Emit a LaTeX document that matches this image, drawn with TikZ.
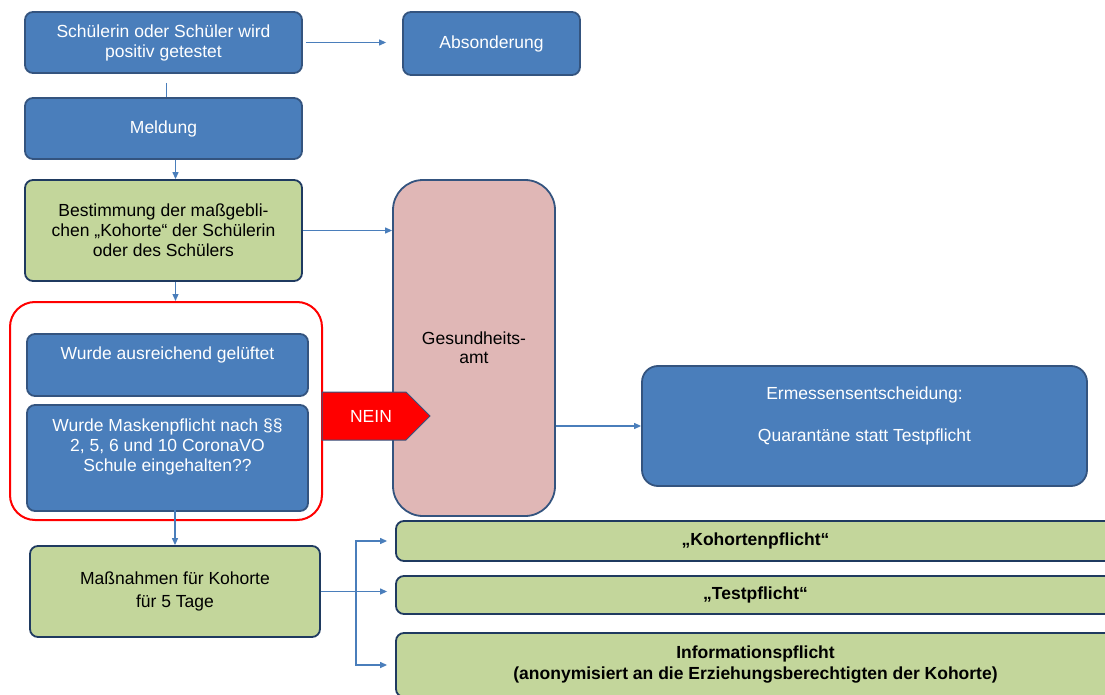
\documentclass[tikz,border=0pt]{standalone}
\usepackage{fontspec}
\setmainfont{Liberation Sans}
\usepackage{tikz}
\usetikzlibrary{arrows.meta,positioning,shapes.symbols}
\definecolor{kblue}{HTML}{4A7EBB}
\definecolor{kedge}{HTML}{34547F}
\definecolor{knavy}{HTML}{1F3A60}
\definecolor{kgreen}{HTML}{C3D69B}
\definecolor{kpink}{HTML}{E0B7B6}
\definecolor{kred}{HTML}{FF0000}

\begin{document}
\begin{tikzpicture}[x=1pt,y=-1pt,
  box/.style={draw=kedge,line width=1.8pt,rounded corners=8pt,align=center,
              font=\fontsize{17.5}{20}\selectfont,inner sep=0pt},
  bluebox/.style={box,fill=kblue,text=white},
  greenbox/.style={box,fill=kgreen,draw=knavy},
  txt/.style={align=center,font=\fontsize{17.5}{20}\selectfont},
  arr/.style={-{Triangle[length=7pt,width=6pt]},draw=kblue,line width=1.2pt}]
  \useasboundingbox (0,0) rectangle (1105,695);
  % left column
  \node[bluebox,minimum width=277pt,minimum height=61pt] (test) at (163.5,42.5)
    {Schülerin oder Schüler wird\\positiv getestet};
  \node[bluebox,minimum width=177pt,minimum height=63pt] (abs) at (491.5,43.5) {Absonderung};
  \node[bluebox,minimum width=277pt,minimum height=61pt] (meld) at (163.5,128.5) {Meldung};
  \node[greenbox,minimum width=277pt,minimum height=101pt] (best) at (163.5,230.5)
    {Bestimmung der maßgebli-\\chen „Kohorte“ der Schülerin\\oder des Schülers};
  % checks
  \node[draw=kred,line width=2pt,rounded corners=25pt,minimum width=312pt,
        minimum height=218pt] (frame) at (166,411) {};
  \node[bluebox,minimum width=281pt,minimum height=62pt,
        label={[txt,text=white,yshift=10pt]center:Wurde ausreichend gelüftet}] (luft) at (167.5,365) {};
  \node[bluebox,minimum width=281pt,minimum height=106pt,
        label={[txt,text=white,yshift=11pt]center:Wurde Maskenpflicht nach §§\\2, 5, 6 und 10 CoronaVO\\Schule eingehalten??}]
        (mask) at (167.5,458) {};
  % authority
  \node[box,fill=kpink,rounded corners=30pt,minimum width=162pt,minimum height=336pt,
        font=\fontsize{17.5}{19}\selectfont] (gesund) at (474,348) {Gesundheits-\\amt};
  \node[signal,signal to=east,signal pointer angle=90,fill=kred,draw=kedge,line width=1pt,
        minimum width=108pt,minimum height=48pt,inner sep=0pt,text=white,
        font=\fontsize{17.5}{20}\selectfont] (nein) at (364,416) {\hspace*{14pt}NEIN};
  \node[bluebox,rounded corners=16pt,minimum width=445pt,minimum height=120pt,
        label={[txt,text=white,yshift=10pt]center:Ermessensentscheidung:\\[22pt]Quarantäne statt Testpflicht}]
        (erm) at (864.5,426) {};
  % measures
  \node[greenbox,minimum width=290pt,minimum height=91pt,
        font=\fontsize{17.5}{23}\selectfont] (mass) at (175,591.5) {Maßnahmen für Kohorte\\für 5 Tage};
  \node[greenbox,minimum width=719pt,minimum height=40pt,font=\fontsize{17.5}{20}\selectfont\bfseries]
    (koh) at (755.5,541) {„Kohortenpflicht“};
  \node[greenbox,minimum width=719pt,minimum height=38pt,font=\fontsize{17.5}{20}\selectfont\bfseries]
    (testp) at (755.5,595) {„Testpflicht“};
  \node[greenbox,minimum width=719pt,minimum height=64pt,font=\fontsize{17.5}{21}\selectfont\bfseries]
    (info) at (755.5,665) {Informationspflicht\\(anonymisiert an die Erziehungsberechtigten der Kohorte)};
  % connectors
  \draw[arr,shorten <=3pt,shorten >=16pt] (test.east) -- (test.east -| abs.west);
  \draw[kblue,line width=1.2pt,shorten <=9pt] ([xshift=3pt]test.south) -- ([xshift=3pt]test.south |- meld.north);
  \draw[arr] ([xshift=12pt]meld.south) -- ([xshift=12pt]meld.south |- best.north);
  \draw[arr] (best.east) -- (best.east -| gesund.west);
  \draw[arr] ([xshift=12pt]best.south) -- ([xshift=12pt]best.south |- frame.north);
  \draw[arr,shorten <=-14pt] ([xshift=7.5pt]mask.south) -- ([xshift=7.5pt]mask.south |- mass.north);
  \draw[arr] (gesund.east |- erm.west) -- (erm.west);
  \draw[arr,shorten >=8pt] (mass.east) -- ++(35,0) |- (koh.west);
  \draw[arr,shorten >=8pt] (mass.east) -- (mass.east -| testp.west);
  \draw[arr,shorten >=8pt] (mass.east) -- ++(35,0) |- (info.west);
\end{tikzpicture}
\end{document}
